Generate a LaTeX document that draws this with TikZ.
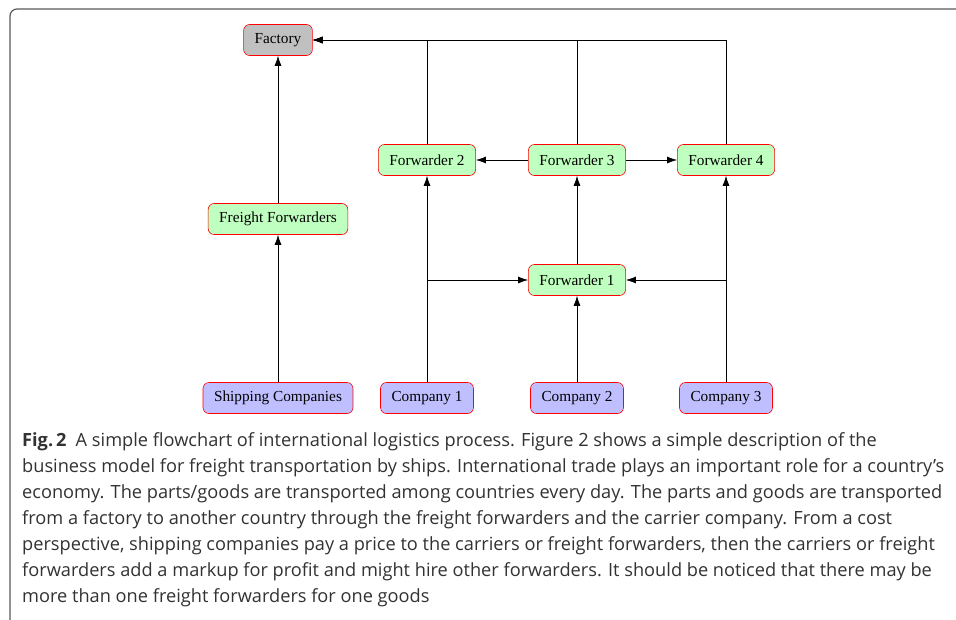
\documentclass[tikz,border=0pt]{standalone}
\usepackage{fontspec}
\setmainfont{Liberation Serif}
\newfontfamily\capfont{Open Sans}
\usetikzlibrary{arrows.meta}

\definecolor{boxgreen}{RGB}{191,255,191}
\definecolor{boxblue}{RGB}{191,191,255}
\definecolor{boxgray}{RGB}{192,192,192}
\definecolor{captext}{RGB}{50,50,50}

\begin{document}
\begin{tikzpicture}[x=1pt, y=-1pt,
  box/.style={rectangle, rounded corners=6pt, draw=red, line width=0.6pt, minimum height=31pt, inner xsep=11pt, font=\fontsize{15.3}{17}\selectfont},
  firm/.style={box, fill=boxgreen},
  shipper/.style={box, fill=boxblue},
  arr/.style={-{Latex[length=10pt,width=7pt]}, line width=0.7pt},
  capline/.style={anchor=base west, inner sep=0pt, text=captext, font=\capfont\fontsize{18.2}{22}\selectfont}]
  \useasboundingbox (0,0) rectangle (956,619);
  \clip (0,0) rectangle (956,619);
  \draw[line width=1.2pt, draw=black!65, rounded corners=7pt] (10,640) -- (10,9) -- (980,9);

  \node (fac) [box, fill=boxgray] at (278, 40) {Factory};
  \node (ff) [firm] at (278, 219) {Freight Forwarders};
  \node (sc) [shipper] at (278, 398) {Shipping Companies};
  \node (c1) [shipper] at (427, 398) {Company 1};
  \node (c2) [shipper] at (577, 398) {Company 2};
  \node (c3) [shipper] at (726, 398) {Company 3};
  \node (f1) [firm] at (577, 280) {Forwarder 1};
  \node (f2) [firm] at (427, 160) {Forwarder 2};
  \node (f3) [firm] at (577, 160) {Forwarder 3};
  \node (f4) [firm] at (726, 160) {Forwarder 4};

  \draw[arr] (sc) -- (ff);
  \draw[arr] (ff) -- (fac);
  \draw[arr] (c1) -- (f2);
  \draw[arr] (c1) |- (f1);
  \draw[arr] (c2) -- (f1);
  \draw[arr] (c3) -- (f4);
  \draw[arr] (c3) |- (f1);
  \draw[arr] (f1) -- (f3);
  \draw[arr] (f3) -- (f2);
  \draw[arr] (f3) -- (f4);
  \draw[arr] (f2) |- (fac);
  \draw[arr] (f3) |- (fac);
  \draw[arr] (f4) |- (fac);

  % caption
  \node (cap1) [capline] at (22, 446) {\textbf{Fig.\,2}\hspace{0.5em}A simple flowchart of international logistics process. Figure 2 shows a simple description of the};
  \node (cap2) [capline] at (22, 472) {business model for freight transportation by ships. International trade plays an important role for a country’s};
  \node (cap3) [capline] at (22, 498) {economy. The parts/goods are transported among countries every day. The parts and goods are transported};
  \node (cap4) [capline] at (22, 524) {from a factory to another country through the freight forwarders and the carrier company. From a cost};
  \node (cap5) [capline] at (22, 550) {perspective, shipping companies pay a price to the carriers or freight forwarders, then the carriers or freight};
  \node (cap6) [capline] at (22, 576) {forwarders add a markup for profit and might hire other forwarders. It should be noticed that there may be};
  \node (cap7) [capline] at (22, 602) {more than one freight forwarders for one goods};
\end{tikzpicture}
\end{document}
